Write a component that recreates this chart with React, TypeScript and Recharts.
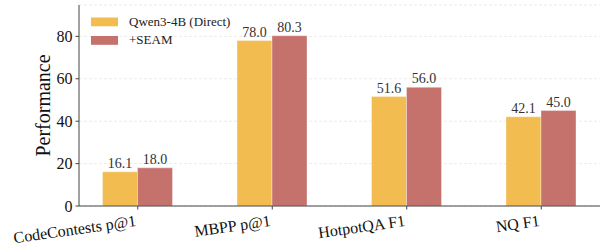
import React from 'react';
import { BarChart, Bar, XAxis, YAxis, CartesianGrid, Legend, LabelList, Text } from 'recharts';

const categories = ['CodeContests p@1', 'MBPP p@1', 'HotpotQA F1', 'NQ F1'];
const directValues = [16.1, 78.0, 51.6, 42.1];
const seamValues = [18.0, 80.3, 56.0, 45.0];
const yTicks = [0, 20, 40, 60, 80];
const seriesNames = ['Qwen3-4B (Direct)', '+SEAM'];

const COLORS = ['#F2BC50', '#C5716C'];
const FONT = 'Liberation Serif';

const data = categories.map((c, i) => ({ name: c, direct: directValues[i], seam: seamValues[i] }));

const XTick = (props: any) => {
  const { x, y, payload } = props;
  const bx = x - 1;
  const by = y + 14.5;
  return (
    <Text
      x={bx}
      y={by}
      textAnchor="end"
      verticalAnchor="end"
      angle={-8}
      fontSize={16}
      fontFamily={FONT}
      fill="#111"
    >
      {payload.value}
    </Text>
  );
};

const LegendContent = () => (
  <svg width={280} height={50} style={{ display: 'block', overflow: 'visible' }}>
    {seriesNames.map((n, i) => (
      <g key={n}>
        <rect x={91} y={17.5 + i * 18.5} width={27} height={8.8} fill={COLORS[i]} />
        <Text x={129} y={25.8 + i * 18.5} verticalAnchor="end" fontSize={13} fontFamily={FONT} fill="#222">
          {n}
        </Text>
      </g>
    ))}
  </svg>
);

export default function App() {
  return (
    <div style={{ position: 'absolute', left: 0, top: 0, width: 602, height: 247, background: '#fff' }}>
      <BarChart
        width={602}
        height={247}
        data={data}
        margin={{ top: 5, right: 2, bottom: 0, left: 0 }}
        barGap={0}
        barSize={35}
      >
        <CartesianGrid vertical={false} stroke="#e6e6e6" strokeDasharray="3 2" strokeWidth={0.8} />
        <XAxis
          dataKey="name"
          height={41}
          padding={{ left: -8.5, right: -8.5 }}
          tickSize={3.5}
          tickMargin={2}
          axisLine={{ stroke: '#444', strokeWidth: 1 }}
          tickLine={{ stroke: '#444' }}
          tick={<XTick />}
          interval={0}
        />
        <YAxis
          width={79}
          domain={[0, 94.8]}
          ticks={yTicks}
          tickSize={3.5}
          tickMargin={3}
          axisLine={{ stroke: '#444', strokeWidth: 1 }}
          tickLine={{ stroke: '#444' }}
          tick={{ fontSize: 16, fill: '#111', fontFamily: FONT }}
          label={{ value: 'Performance', angle: -90, position: 'center', dx: 3, fontSize: 20, fill: '#111', fontFamily: FONT }}
        />
        <Legend
          layout="vertical"
          align="center"
          verticalAlign="middle"
          wrapperStyle={{ left: 0, top: 0, width: 280, height: 50 }}
          content={<LegendContent />}
        />
        <Bar dataKey="direct" name={seriesNames[0]} fill={COLORS[0]} stroke="#fff" strokeOpacity={0.6} strokeWidth={0.6} isAnimationActive={false}>
          <LabelList dataKey="direct" position="top" offset={4} fontSize={14} fill="#333" fontFamily={FONT} formatter={(v: any) => Number(v).toFixed(1)} />
        </Bar>
        <Bar dataKey="seam" name={seriesNames[1]} fill={COLORS[1]} stroke="#fff" strokeOpacity={0.6} strokeWidth={0.6} isAnimationActive={false}>
          <LabelList dataKey="seam" position="top" offset={4} fontSize={14} fill="#333" fontFamily={FONT} formatter={(v: any) => Number(v).toFixed(1)} />
        </Bar>
      </BarChart>
    </div>
  );
}
